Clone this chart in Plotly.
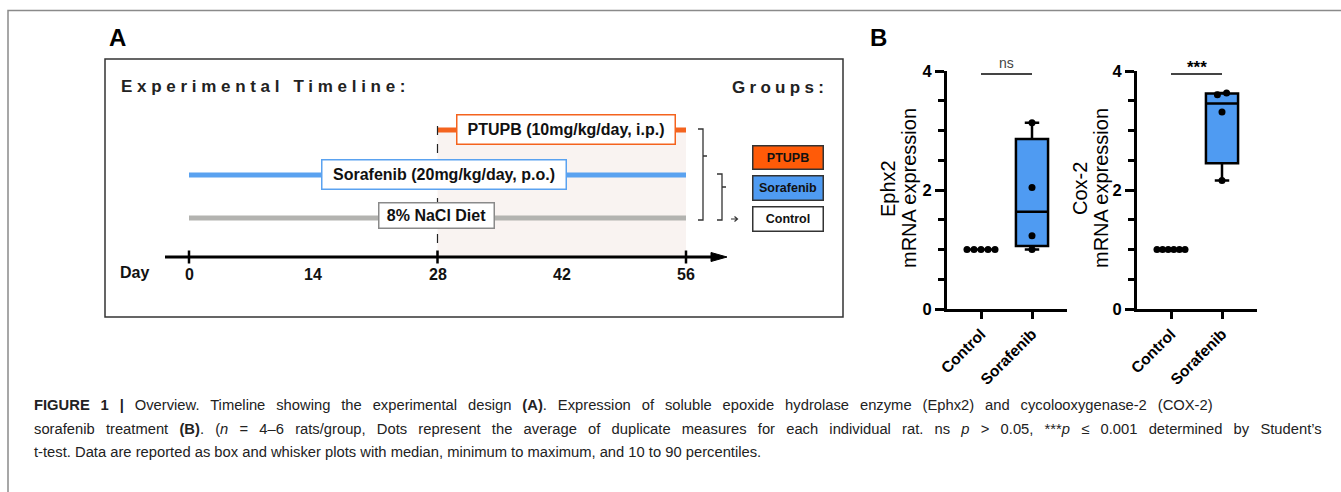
import numpy as np
import plotly.graph_objects as go

W, H = 1341, 492

# ---------------- Panel A data ----------------
TREATMENTS = ["PTUPB (10mg/kg/day, i.p.)", "Sorafenib (20mg/kg/day, p.o.)", "8% NaCl Diet"]
TREAT_START = [28, 0, 0]
TREAT_END = [56, 56, 56]
DAY_TICKS = [0, 14, 28, 42, 56]
DAY_MARKS = [0, 28, 56]
GROUPS = ["PTUPB", "Sorafenib", "Control"]

# ---------------- Panel B data ----------------
CATEGORIES = ["Control", "Sorafenib"]
EPHX2_CONTROL = [1.0, 1.0, 1.0, 1.0, 1.0]
EPHX2_SORAFENIB = [1.00, 1.23, 2.04, 3.13]
COX2_CONTROL = [1.0, 1.0, 1.0, 1.0, 1.0, 1.0]
COX2_SORAFENIB = [2.16, 3.31, 3.60, 3.63]
SIG_LABELS = ["ns", "***"]
Y_TITLES = ["Ephx2", "Cox-2"]

# ---------------- styling ----------------
FONT = "Liberation Sans, Arial, sans-serif"
ORANGE = "#f4631e"
ORANGE_FILL = "#ff5b08"
BLUE = "#4f9bf2"
BLUE_LINE = "#5aa2f0"
GRAY = "#b3b3b0"
SHADE = "#f9f3f1"
ROW_Y = [130, 175, 218]          # pixel rows of the three treatment lines
LINE_COLORS = [ORANGE, BLUE_LINE, GRAY]
BORDER_COLORS = [ORANGE, BLUE_LINE, "#8a8a8a"]
LABEL_BOXES = [(565.5, 130, 219, 30), (443.5, 174, 245, 30), (436, 216, 116, 26)]
GROUP_BOXES = [(787.5, 157, 71, 24, ORANGE_FILL), (787.5, 188, 71, 25, BLUE), (787.5, 218.5, 71, 25, "white")]

DAY0_PX, DAY56_PX = 189, 686
AXIS_Y = 257


def px(x):
    return x / W


def py(y):
    return 1 - y / H


k = (DAY56_PX - DAY0_PX) / 56.0
day_range = [-DAY0_PX / k, (W - DAY0_PX) / k]

fig = go.Figure()
shapes = []
ann = []

# ---- outer frame ----
shapes.append(dict(type="path", xref="paper", yref="paper",
                   path=f"M{px(8)},{py(492)} L{px(8)},{py(10.5)} L{px(1341)},{py(10.5)}",
                   line=dict(color="#8a8a8a", width=1.5)))

# ---- Panel A frame ----
shapes.append(dict(type="rect", xref="paper", yref="paper", x0=px(105), x1=px(843), y0=py(317), y1=py(59),
                   line=dict(color="#333", width=1.5), fillcolor="rgba(0,0,0,0)"))

# shaded PTUPB period
shapes.append(dict(type="rect", xref="x", yref="y", x0=TREAT_START[0], x1=TREAT_END[0], y0=ROW_Y[0], y1=AXIS_Y,
                   fillcolor=SHADE, line=dict(width=0), layer="below"))
# dashed line at start of PTUPB
shapes.append(dict(type="line", xref="x", yref="y", x0=TREAT_START[0], x1=TREAT_START[0], y0=126, y1=AXIS_Y,
                   line=dict(color="#222", width=1.2, dash="dash")))

# timeline lines
for name, s, e, yy, c in zip(TREATMENTS, TREAT_START, TREAT_END, ROW_Y, LINE_COLORS):
    fig.add_trace(go.Scatter(x=[s, e], y=[yy, yy], mode="lines", line=dict(color=c, width=5),
                             xaxis="x", yaxis="y", hoverinfo="skip", showlegend=False))

# day axis
shapes.append(dict(type="line", xref="paper", yref="y", x0=px(165), x1=px(716), y0=AXIS_Y, y1=AXIS_Y,
                   line=dict(color="black", width=3)))
shapes.append(dict(type="path", xref="paper", yref="paper",
                   path=f"M{px(711)},{py(252.5)} L{px(727)},{py(257)} L{px(711)},{py(261.5)} Z",
                   fillcolor="black", line=dict(color="black", width=1)))
for d in DAY_MARKS:
    shapes.append(dict(type="line", xref="x", yref="y", x0=d, x1=d, y0=250.5, y1=263.5,
                       line=dict(color="black", width=2.5)))
for d in DAY_TICKS:
    ann.append(dict(xref="x", yref="y", x=d, y=274, text=f"<b>{d}</b>", showarrow=False,
                    font=dict(family=FONT, size=16, color="#111"), xanchor="center", yanchor="middle"))
ann.append(dict(xref="paper", yref="paper", x=px(118), y=py(272), text="<b>Day</b>", showarrow=False,
                font=dict(family=FONT, size=16, color="#111"), xanchor="left", yanchor="middle"))

# treatment label boxes
for name, (cx, cy, w, h), bc in zip(TREATMENTS, LABEL_BOXES, BORDER_COLORS):
    ann.append(dict(xref="paper", yref="paper", x=px(cx), y=py(cy), text=f"<b>{name}</b>", showarrow=False,
                    font=dict(family=FONT, size=16, color="#111"), xanchor="center", yanchor="middle",
                    width=w - 2, height=h - 2, bgcolor="white", bordercolor=bc, borderwidth=1.5, borderpad=0))

# group boxes
for name, (cx, cy, w, h, fc) in zip(GROUPS, GROUP_BOXES):
    ann.append(dict(xref="paper", yref="paper", x=px(cx), y=py(cy), text=f"<b>{name}</b>", showarrow=False,
                    font=dict(family=FONT, size=12.5, color="#111"), xanchor="center", yanchor="middle",
                    width=w - 2, height=h - 2, bgcolor=fc, bordercolor="#333", borderwidth=1.5, borderpad=0))


# brackets
def P(x, y):
    return f"{px(x)},{py(y)}"


shapes.append(dict(type="path", xref="paper", yref="paper",
                   path=f"M{P(698,129)} L{P(703,129)} L{P(703,220)} L{P(698,220)} M{P(703,156)} L{P(707,156)}",
                   line=dict(color="#333", width=1.3)))
shapes.append(dict(type="path", xref="paper", yref="paper",
                   path=f"M{P(717,174)} L{P(722,174)} L{P(722,220)} L{P(717,220)} M{P(722,187)} L{P(726,187)}",
                   line=dict(color="#333", width=1.3)))
shapes.append(dict(type="path", xref="paper", yref="paper",
                   path=f"M{P(731,219)} L{P(737,219)} M{P(734.5,216.5)} L{P(737.5,219)} L{P(734.5,221.5)}",
                   line=dict(color="#333", width=1.2)))

# titles
ann.append(dict(xref="paper", yref="paper", x=px(119), y=py(87), xanchor="left", yanchor="middle",
                text='<span style="letter-spacing:4.7px"><b>Experimental Timeline:</b></span>', showarrow=False,
                font=dict(family=FONT, size=17, color="#222")))
ann.append(dict(xref="paper", yref="paper", x=px(830), y=py(88), xanchor="right", yanchor="middle",
                text='<span style="letter-spacing:4.3px"><b>Groups:</b></span>', showarrow=False,
                font=dict(family=FONT, size=17, color="#222")))
ann.append(dict(xref="paper", yref="paper", x=px(117), y=py(37), xanchor="center", yanchor="middle",
                text="<b>A</b>", showarrow=False, font=dict(family=FONT, size=24, color="black")))
ann.append(dict(xref="paper", yref="paper", x=px(878), y=py(37), xanchor="center", yanchor="middle",
                text="<b>B</b>", showarrow=False, font=dict(family=FONT, size=24, color="black")))


# ---------------- Panel B ----------------
def box_stats(vals):
    v = np.asarray(vals, float)
    q1, med, q3 = np.percentile(v, [25, 50, 75], method="weibull")
    return dict(q1=[q1], median=[med], q3=[q3], lowerfence=[v.min()], upperfence=[v.max()])


def spread(vals, center, width=0.55, step=0.18, tol=0.1):
    v = np.asarray(vals, float)
    order = list(np.argsort(v))
    xs = np.full(len(v), float(center))
    clusters, cur = [], [order[0]]
    for a, b in zip(order[:-1], order[1:]):
        if v[b] - v[a] < tol:
            cur.append(b)
        else:
            clusters.append(cur)
            cur = [b]
    clusters.append(cur)
    for c in clusters:
        n = len(c)
        if n > 1:
            s = min(step, width / (n - 1))
            xs[c] = center + (np.arange(n) - (n - 1) / 2) * s
    return xs


panels = [
    ("x2", "y2", EPHX2_CONTROL, EPHX2_SORAFENIB, 947, 1067, Y_TITLES[0], SIG_LABELS[0], (888, 909)),
    ("x3", "y3", COX2_CONTROL, COX2_SORAFENIB, 1137, 1257, Y_TITLES[1], SIG_LABELS[1], (1080, 1101)),
]
PX_PER_CAT = 51
for xa, ya, ctrl, sora, x_left, x_right, ytitle, sig, tx in panels:
    for i, vals in enumerate([ctrl, sora]):
        fig.add_trace(go.Box(x=[i], **box_stats(vals), width=0.63, fillcolor=BLUE,
                             line=dict(color="black", width=2.5), whiskerwidth=0.45,
                             boxpoints=False, xaxis=xa, yaxis=ya, hoverinfo="skip", showlegend=False))
        fig.add_trace(go.Scatter(x=spread(vals, i), y=vals, mode="markers",
                                 marker=dict(color="black", size=7), xaxis=xa, yaxis=ya,
                                 hoverinfo="skip", showlegend=False, cliponaxis=False))
    shapes.append(dict(type="line", xref=xa, yref=ya, x0=0, x1=1, y0=3.95, y1=3.95,
                       line=dict(color="#444", width=2)))
    if sig == "ns":
        ann.append(dict(xref=xa, yref="paper", x=0.5, y=py(63), text=sig, showarrow=False,
                        font=dict(family=FONT, size=14, color="#444"), xanchor="center", yanchor="middle"))
    else:
        ann.append(dict(xref=xa, yref="paper", x=0.5, y=py(67), text=f"<b>{sig}</b>", showarrow=False,
                        font=dict(family=FONT, size=17, color="black"), xanchor="center", yanchor="middle"))
    ann.append(dict(xref="paper", yref="paper", x=px(tx[0]), y=py(189), text=ytitle, textangle=-90,
                    showarrow=False, font=dict(family=FONT, size=20, color="black"),
                    xanchor="center", yanchor="middle"))
    ann.append(dict(xref="paper", yref="paper", x=px(tx[1]), y=py(188), text="mRNA expression", textangle=-90,
                    showarrow=False, font=dict(family=FONT, size=20, color="black"),
                    xanchor="center", yanchor="middle"))
    ctrl0 = x_left + 34
    xr = [(x_left - ctrl0) / PX_PER_CAT, (x_right - ctrl0) / PX_PER_CAT]
    axis_x = dict(range=xr, domain=[px(x_left), px(x_right)], showline=True, linewidth=3, linecolor="black",
                  ticks="outside", ticklen=7, tickwidth=3, tickcolor="black", tickmode="array",
                  tickvals=[0, 1], ticktext=CATEGORIES, tickangle=-45,
                  tickfont=dict(family=FONT, size=15.5, color="black", weight="bold"),
                  showgrid=False, zeroline=False, anchor=ya, fixedrange=True, automargin=False)
    axis_y = dict(range=[0, 4], domain=[py(309), py(71)], showline=True, linewidth=3, linecolor="black",
                  ticks="outside", ticklen=9, tickwidth=3, tickcolor="black", tickmode="linear",
                  tick0=0, dtick=2, tickfont=dict(family=FONT, size=16.5, color="black", weight="bold"),
                  minor=dict(tick0=0, dtick=0.5, ticks="outside", ticklen=6, tickwidth=3, tickcolor="black"),
                  showgrid=False, zeroline=False, anchor=xa, fixedrange=True, automargin=False)
    fig.layout["xaxis" + xa[1:]] = axis_x
    fig.layout["yaxis" + ya[1:]] = axis_y

# ---------------- Caption ----------------
CAPTION = [
    "<b>FIGURE 1 | </b>Overview. Timeline showing the experimental design <b>(A)</b>. Expression of soluble epoxide "
    "hydrolase enzyme (Ephx2) and cycolooxygenase-2 (COX-2)",
    "sorafenib treatment <b>(B)</b>. (<i>n</i> = 4–6 rats/group, Dots represent the average of duplicate measures "
    "for each individual rat. ns <i>p</i> &gt; 0.05, ***<i>p</i> ≤ 0.001 determined by Student’s",
    "t-test. Data are reported as box and whisker plots with median, minimum to maximum, and 10 to 90 percentiles.",
]
CAPTION_WORD_SPACING = [6.8, 7.1, 0]
for line, yy, wsp in zip(CAPTION, [405, 429, 452], CAPTION_WORD_SPACING):
    ann.append(dict(xref="paper", yref="paper", x=px(32), y=py(yy),
                    text=f'<span style="word-spacing:{wsp}px">{line}</span>', showarrow=False,
                    xanchor="left", yanchor="middle", font=dict(family=FONT, size=14.75, color="#222")))

fig.update_layout(
    width=W, height=H, margin=dict(l=0, r=0, t=0, b=0, pad=0, autoexpand=False),
    paper_bgcolor="white", plot_bgcolor="rgba(0,0,0,0)", showlegend=False,
    font=dict(family=FONT),
    xaxis=dict(domain=[0, 1], range=day_range, visible=False, fixedrange=True, anchor="y", automargin=False),
    yaxis=dict(domain=[0, 1], range=[H, 0], visible=False, fixedrange=True, anchor="x", automargin=False),
    shapes=shapes, annotations=ann,
)
fig.write_html("out.html", config={"displayModeBar": False},
               post_script="document.body.style.margin='0px';document.body.style.overflow='hidden';")
